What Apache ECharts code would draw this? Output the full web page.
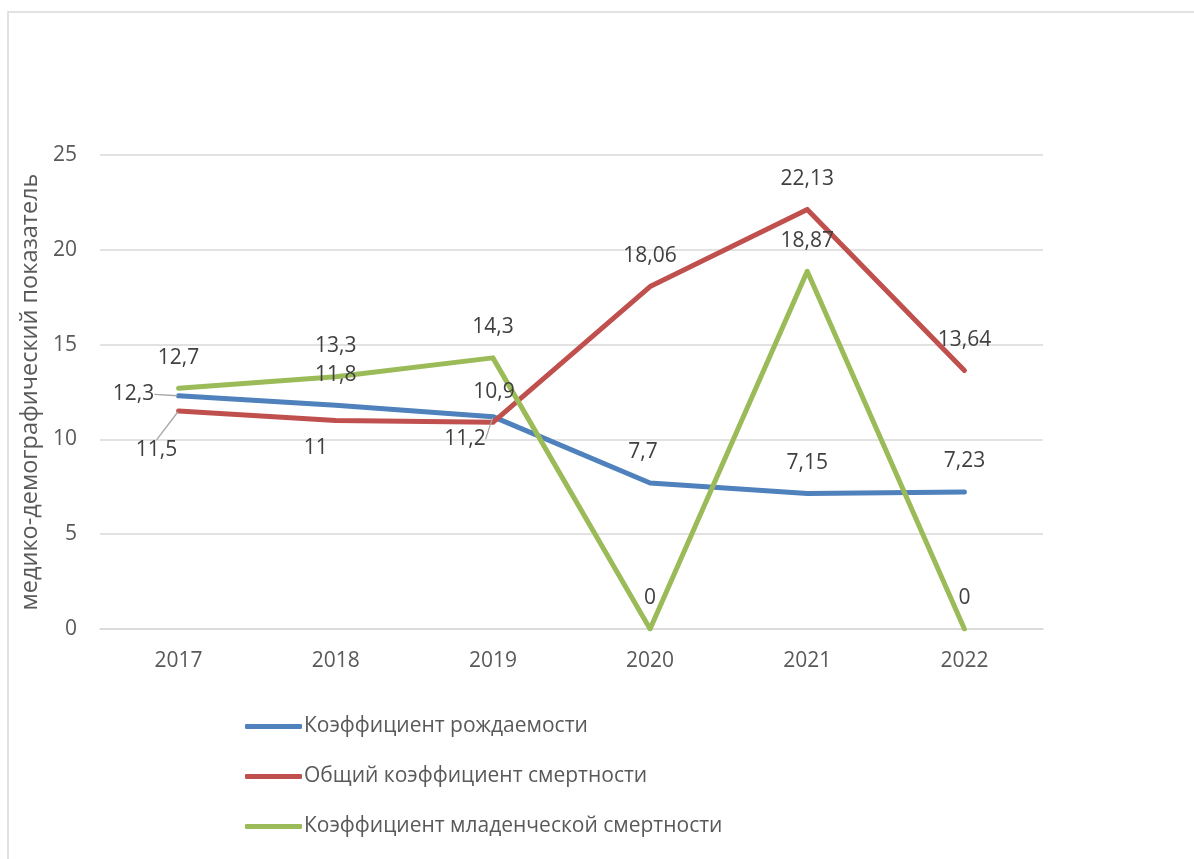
<!DOCTYPE html>
<html>
<head>
<meta charset="utf-8">
<script src="https://cdn.jsdelivr.net/npm/echarts@6/dist/echarts.min.js"></script>
<style>
html, body { margin: 0; padding: 0; background: #fff; }
#main { width: 1194px; height: 859px; }
</style>
</head>
<body>
<div id="main"></div>
<script>
// данные
var years = ['2017', '2018', '2019', '2020', '2021', '2022'];
var birthRate = [12.3, 11.8, 11.2, 7.7, 7.15, 7.23];
var deathRate = [11.5, 11, 10.9, 18.06, 22.13, 13.64];
var infantRate = [12.7, 13.3, 14.3, 0, 18.87, 0];
var seriesNames = ['Коэффициент рождаемости', 'Общий коэффициент смертности', 'Коэффициент младенческой смертности'];

// сдвиги подписей, которые Excel вынес в сторону
var labelMoves = {
	'0-0': [-45, 29, true],
	'0-2': [-28, 53, true],
	'0-3': [-7, 0],
	'1-0': [-22, 70, true],
	'1-1': [-20, 58],
	'1-2': [1, 0]
};

function fmt(v) {
	return String(v).replace('.', ',');
}

function makeData(arr, si) {
	return arr.map(function (v, i) {
		var m = labelMoves[si + '-' + i];
		if (m && m[2]) {
			return { value: v, labelLine: { show: true } };
		}
		return v;
	});
}

function makeSeries(name, arr, color, si) {
	return {
		name: name,
		type: 'line',
		data: makeData(arr, si),
		symbol: 'circle',
		symbolSize: 2,
		itemStyle: { color: color },
		lineStyle: { color: color, width: 5, cap: 'round', join: 'round' },
		label: {
			show: true,
			position: 'top',
			distance: 19,
			color: '#404040',
			fontSize: 21,
			fontFamily: 'Open Sans',
			formatter: function (p) { return fmt(p.value); }
		},
		labelLine: {
			show: false,
			lineStyle: { color: '#a6a6a6', width: 1.3 }
		},
		labelLayout: function (p) {
			var m = labelMoves[si + '-' + p.dataIndex];
			if (m) {
				return { dx: m[0], dy: m[1] };
			}
			return {};
		},
		animation: false
	};
}

var chart = echarts.init(document.getElementById('main'));
chart.setOption({
	backgroundColor: '#fff',
	graphic: [{
		type: 'rect',
		shape: { x: 8, y: 12, width: 1300, height: 1000 },
		style: { fill: 'none', stroke: '#d9d9d9', lineWidth: 1.5 },
		silent: true
	}],
	grid: {
		left: 100,
		right: 151,
		top: 155,
		bottom: 230
	},
	legend: {
		orient: 'vertical',
		left: 240,
		top: 711,
		icon: 'roundRect',
		itemWidth: 57,
		itemHeight: 5,
		itemGap: 29,
		textStyle: {
			color: '#595959',
			fontSize: 21,
			fontFamily: 'Open Sans',
			padding: [0, 0, 0, -3]
		},
		data: seriesNames
	},
	xAxis: {
		type: 'category',
		data: years,
		boundaryGap: true,
		axisLine: { lineStyle: { color: '#d9d9d9', width: 1.5 } },
		axisTick: { show: false },
		axisLabel: {
			color: '#595959',
			fontSize: 21,
			fontFamily: 'Open Sans',
			margin: 22
		}
	},
	yAxis: {
		type: 'value',
		min: 0,
		max: 25,
		interval: 5,
		name: 'медико-демографический показатель',
		nameLocation: 'middle',
		nameGap: 52,
		nameTextStyle: {
			color: '#595959',
			fontSize: 23.5,
			fontFamily: 'Open Sans'
		},
		axisLine: { show: false },
		axisTick: { show: false },
		axisLabel: {
			color: '#595959',
			fontSize: 21,
			fontFamily: 'Open Sans',
			margin: 23
		},
		splitLine: { lineStyle: { color: '#d9d9d9', width: 1.5 } }
	},
	series: [
		makeSeries(seriesNames[0], birthRate, '#4f81bd', 0),
		makeSeries(seriesNames[1], deathRate, '#c0504d', 1),
		makeSeries(seriesNames[2], infantRate, '#9bbb59', 2)
	]
});
</script>
</body>
</html>
